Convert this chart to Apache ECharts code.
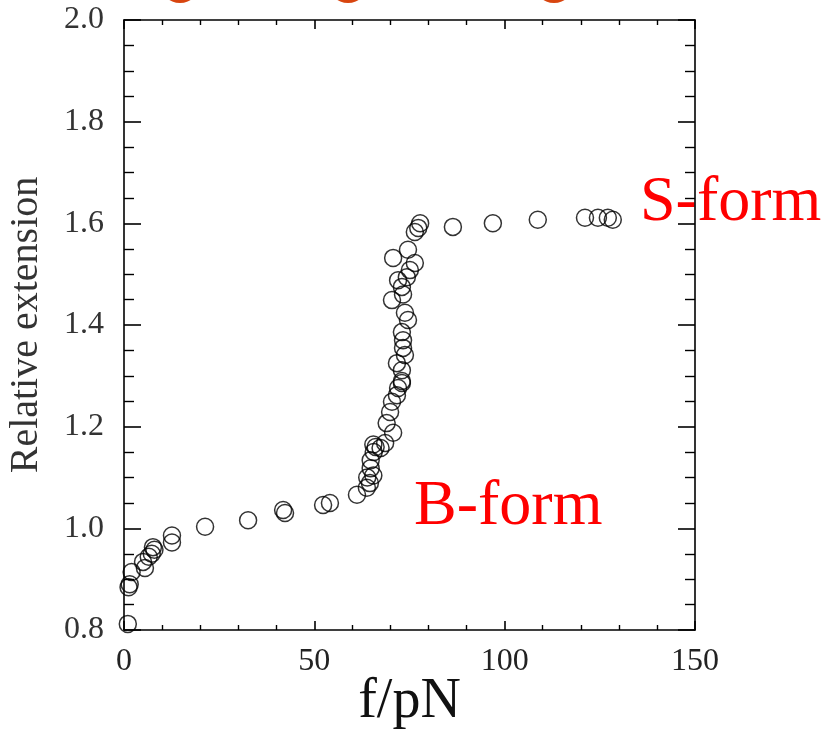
<!DOCTYPE html>
<html>
<head>
<meta charset="utf-8">
<script src="https://cdn.jsdelivr.net/npm/echarts@6/dist/echarts.min.js"></script>
<style>
	html, body { margin: 0; padding: 0; background: #fff; }
	#chart { width: 823px; height: 732px; }
</style>
</head>
<body>
<div id="chart"></div>
<script>
// force (pN) and relative extension
var forceValues = [
	1.0, 1.2, 1.5, 2.0, 5.5, 5.0, 6.5, 7.3, 7.6, 8.0,
	12.6, 12.6, 21.3, 32.6, 42.3, 41.8, 52.3, 54.1, 61.2, 63.8,
	64.6, 63.9, 65.5, 64.8, 64.8, 65.6, 66.1, 67.4, 65.5, 68.6,
	70.7, 69.0, 69.9, 70.4, 71.7, 72.0, 73.0, 73.0, 73.0, 71.7,
	73.8, 73.3, 73.3, 73.0, 74.6, 73.8, 70.4, 73.3, 73.0, 72.0,
	74.3, 75.1, 76.4, 70.7, 74.6, 76.4, 77.3, 77.8,
	86.4, 96.9, 108.7, 121.1, 124.5, 127.1, 128.4
];
var extensionValues = [
	0.812, 0.884, 0.890, 0.914, 0.922, 0.934, 0.944, 0.950, 0.963, 0.958,
	0.972, 0.986, 1.003, 1.016, 1.030, 1.036, 1.046, 1.050, 1.066, 1.080,
	1.089, 1.100, 1.104, 1.118, 1.134, 1.150, 1.160, 1.158, 1.165, 1.168,
	1.188, 1.207, 1.229, 1.249, 1.262, 1.276, 1.286, 1.290, 1.311, 1.325,
	1.341, 1.355, 1.370, 1.386, 1.410, 1.424, 1.449, 1.460, 1.475, 1.488,
	1.494, 1.508, 1.522, 1.532, 1.548, 1.583, 1.591, 1.600,
	1.593, 1.600, 1.607, 1.611, 1.611, 1.611, 1.607
];
var xTicks = [0, 50, 100, 150];
var yTicks = [0.8, 1.0, 1.2, 1.4, 1.6, 1.8, 2.0];
var annotations = [
	{ text: 'S-form', left: 640, top: 204 },
	{ text: 'B-form', left: 414, top: 508 }
];

var serif = '"Liberation Serif", "DejaVu Serif", serif';
var points = [];
for (var i = 0, len = forceValues.length; i < len; i ++) {
	points.push([forceValues[i], extensionValues[i]]);
}

var lineStyle = { color: '#000', width: 1.6 };

function xAxisDef(pos, showLabel) {
	return {
		type: 'value',
		position: pos,
		min: xTicks[0],
		max: xTicks[xTicks.length - 1],
		interval: xTicks[1] - xTicks[0],
		axisLine: { show: true, onZero: false, lineStyle: lineStyle },
		axisTick: { show: true, inside: true, length: 9, lineStyle: lineStyle },
		minorTick: { show: true, splitNumber: 5, length: 5, lineStyle: { color: '#000', width: 1.4 } },
		splitLine: { show: false },
		axisLabel: {
			show: showLabel,
			margin: 16,
			fontFamily: serif,
			fontSize: 32,
			color: '#222'
		}
	};
}

function yAxisDef(pos, showLabel) {
	return {
		type: 'value',
		position: pos,
		min: yTicks[0],
		max: yTicks[yTicks.length - 1],
		interval: 0.2,
		axisLine: { show: true, onZero: false, lineStyle: lineStyle },
		axisTick: { show: true, inside: true, length: 17, lineStyle: lineStyle },
		minorTick: { show: true, splitNumber: 4, length: 10, lineStyle: { color: '#000', width: 1.4 } },
		splitLine: { show: false },
		axisLabel: {
			show: showLabel,
			margin: 20,
			fontFamily: serif,
			fontSize: 32,
			color: '#333',
			formatter: function(v) { return v.toFixed(1); }
		}
	};
}

var xMain = xAxisDef('bottom', true);
xMain.name = 'f/pN';
xMain.nameLocation = 'middle';
xMain.nameGap = 44;
xMain.nameMoveOverlap = false;
xMain.nameTextStyle = { fontFamily: serif, fontSize: 56, color: '#111' };

var yMain = yAxisDef('left', true);
yMain.name = 'Relative extension';
yMain.nameLocation = 'middle';
yMain.nameGap = 78;
yMain.nameMoveOverlap = false;
yMain.nameTextStyle = { fontFamily: serif, fontSize: 40, color: '#333' };

var graphics = [];
// cut-off orange marks along the top edge
var topMarks = [180, 348, 554];
for (var k = 0; k < topMarks.length; k ++) {
	graphics.push({
		type: 'circle',
		shape: { cx: topMarks[k], cy: -17, r: 20 },
		style: { fill: '#d8450f' }
	});
}
for (var a = 0; a < annotations.length; a ++) {
	graphics.push({
		type: 'text',
		left: annotations[a].left,
		top: annotations[a].top - 33,
		style: {
			text: annotations[a].text,
			fill: '#ff0000',
			font: '64px ' + serif
		}
	});
}

var chart = echarts.init(document.getElementById('chart'));
chart.setOption({
	animation: false,
	backgroundColor: '#fff',
	grid: { left: 124, top: 20, right: 128, bottom: 102, containLabel: false, outerBoundsMode: 'none' },
	xAxis: [xMain, xAxisDef('top', false)],
	yAxis: [yMain, yAxisDef('right', false)],
	graphic: graphics,
	series: [{
		type: 'scatter',
		xAxisIndex: 0,
		yAxisIndex: 0,
		symbol: 'circle',
		symbolSize: 17,
		itemStyle: { color: 'rgba(0,0,0,0)', borderColor: '#000', borderWidth: 1.5 },
		data: points
	}]
});
</script>
</body>
</html>
